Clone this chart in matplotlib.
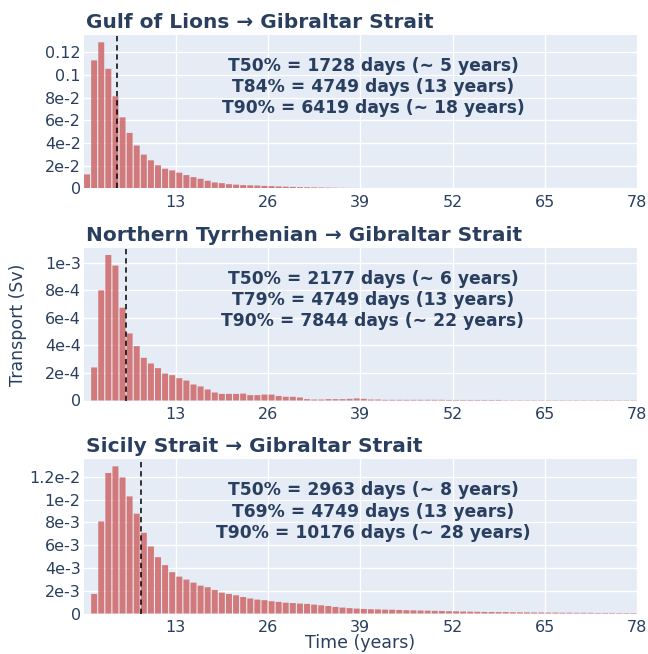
import matplotlib
matplotlib.use("Agg")
import matplotlib.pyplot as plt

# yearly bins, year 0 .. 77
years = list(range(78))

gulf_lions = [0.0124, 0.1127, 0.1286, 0.1053, 0.0811, 0.0626, 0.0489, 0.0378, 0.0298, 0.0248,
              0.0204, 0.0174, 0.0159, 0.0139, 0.0118, 0.0100, 0.0086, 0.0068, 0.0053, 0.0047,
              0.0038, 0.0034, 0.0030, 0.0028, 0.0026, 0.0023, 0.0021, 0.0018, 0.0016, 0.0014,
              0.0012, 0.0011, 0.0010, 0.0009, 0.0008, 0.0007, 0.0006, 0.00055, 0.0005, 0.00045,
              0.0004, 0.00036, 0.00033, 0.0003, 0.00028, 0.00026, 0.00024, 0.00022, 0.0002, 0.00019,
              0.00018, 0.00017, 0.00016, 0.00015, 0.00014, 0.00013, 0.00012, 0.00011, 0.0001, 0.0001,
              0.00009, 0.00009, 0.00008, 0.00008, 0.00007, 0.00007, 0.00007, 0.00006, 0.00006, 0.00006,
              0.00005, 0.00005, 0.00005, 0.00005, 0.00004, 0.00004, 0.00004, 0.00004]

tyrrhenian = [0.0, 2.4e-4, 8.0e-4, 1.057e-3, 9.8e-4, 6.74e-4, 4.87e-4, 3.95e-4, 3.10e-4, 2.69e-4,
              2.35e-4, 1.96e-4, 1.84e-4, 1.62e-4, 1.45e-4, 1.16e-4, 1.02e-4, 8.0e-5, 5.8e-5, 4.8e-5,
              4.8e-5, 4.8e-5, 5.0e-5, 3.9e-5, 3.9e-5, 4.3e-5, 4.3e-5, 3.3e-5, 2.7e-5, 2.7e-5,
              2.2e-5, 1.0e-5, 7e-6, 7e-6, 1.0e-5, 1.0e-5, 1.0e-5, 1.2e-5, 1.5e-5, 1.2e-5,
              7e-6, 7e-6, 5e-6, 5e-6, 5e-6, 5e-6, 5e-6, 5e-6, 5e-6, 5e-6,
              5e-6, 4e-6, 4e-6, 4e-6, 4e-6, 4e-6, 4e-6, 4e-6, 4e-6, 2e-6,
              2e-6, 2e-6, 2e-6, 2e-6, 2e-6, 2e-6, 2e-6, 2e-6, 2e-6, 2e-6,
              2e-6, 2e-6, 2e-6, 2e-6, 2e-6, 2e-6, 2e-6, 2e-6]

sicily = [0.0, 1.72e-3, 8.09e-3, 1.235e-2, 1.293e-2, 1.196e-2, 1.029e-2, 8.77e-3, 7.09e-3, 5.89e-3,
          4.95e-3, 4.25e-3, 3.63e-3, 3.24e-3, 2.98e-3, 2.71e-3, 2.45e-3, 2.31e-3, 2.07e-3, 1.83e-3,
          1.72e-3, 1.60e-3, 1.45e-3, 1.32e-3, 1.22e-3, 1.17e-3, 1.08e-3, 1.02e-3, 0.95e-3, 0.92e-3,
          0.87e-3, 0.84e-3, 0.78e-3, 0.72e-3, 0.66e-3, 0.58e-3, 0.52e-3, 0.47e-3, 0.43e-3, 0.40e-3,
          0.37e-3, 0.36e-3, 0.34e-3, 0.33e-3, 0.31e-3, 0.29e-3, 0.28e-3, 0.26e-3, 0.25e-3, 0.23e-3,
          0.22e-3, 0.20e-3, 0.19e-3, 0.17e-3, 0.16e-3, 0.15e-3, 0.14e-3, 0.13e-3, 0.12e-3, 0.12e-3,
          0.11e-3, 0.10e-3, 0.10e-3, 0.09e-3, 0.09e-3, 0.08e-3, 0.08e-3, 0.07e-3, 0.07e-3, 0.06e-3,
          0.06e-3, 0.06e-3, 0.05e-3, 0.05e-3, 0.05e-3, 0.04e-3, 0.04e-3, 0.04e-3]

titles = ["Gulf of Lions \u2192 Gibraltar Strait",
          "Northern Tyrrhenian \u2192 Gibraltar Strait",
          "Sicily Strait \u2192 Gibraltar Strait"]

t50_days = [1728, 2177, 2963]

annotations = [
    "T50% = 1728 days (~ 5 years)\nT84% = 4749 days (13 years)\nT90% = 6419 days (~ 18 years)",
    "T50% = 2177 days (~ 6 years)\nT79% = 4749 days (13 years)\nT90% = 7844 days (~ 22 years)",
    "T50% = 2963 days (~ 8 years)\nT69% = 4749 days (13 years)\nT90% = 10176 days (~ 28 years)",
]

ytick_vals = [[0, 0.02, 0.04, 0.06, 0.08, 0.1, 0.12],
              [0, 2e-4, 4e-4, 6e-4, 8e-4, 1e-3],
              [0, 2e-3, 4e-3, 6e-3, 8e-3, 1e-2, 1.2e-2]]
ytick_labels = [["0", "2e-2", "4e-2", "6e-2", "8e-2", "0.1", "0.12"],
                ["0", "2e-4", "4e-4", "6e-4", "8e-4", "1e-3"],
                ["0", "2e-3", "4e-3", "6e-3", "8e-3", "1e-2", "1.2e-2"]]
xticks = [13, 26, 39, 52, 65, 78]

series = [gulf_lions, tyrrhenian, sicily]

text_col = "#2a3f5f"
bg = "#E5ECF6"

fig = plt.figure(figsize=(6.48, 6.54), dpi=100)
H = 654.0
W = 648.0
# axes boxes in pixels: (top, bottom)
boxes = [(35, 188.5), (247.7, 400.5), (459, 613.5)]
left, right = 83.5, 637

for i, (top, bot) in enumerate(boxes):
    ax = fig.add_axes([left / W, 1 - bot / H, (right - left) / W, (bot - top) / H])
    ax.set_facecolor(bg)
    for s in ax.spines.values():
        s.set_visible(False)
    ax.set_axisbelow(True)
    ax.grid(True, color="white", linewidth=1)

    centers = [y + 0.5 for y in years]
    bars = ax.bar(centers, series[i], width=0.84, color="#CD5C5C", alpha=0.8)
    for b in bars:
        b.set_snap(False)
    ax.axvline(t50_days[i] / 365.0, color="black", linestyle=(0, (3.5, 2.5)), linewidth=1.1)

    ax.set_xlim(0, 78)
    ax.set_ylim(0, max(series[i]) * 1.05)
    ax.set_xticks(xticks)
    ax.set_yticks(ytick_vals[i])
    ax.set_yticklabels(ytick_labels[i])
    ax.tick_params(axis="both", length=0, labelsize=11.5, labelcolor=text_col)
    ax.tick_params(axis="x", pad=5)
    ax.tick_params(axis="y", pad=2)

    ax.text(0.004, 1.045, titles[i], transform=ax.transAxes, ha="left", va="baseline",
            fontsize=14.5, fontweight="bold", color=text_col)
    ax.text(0.523, 0.66, annotations[i], transform=ax.transAxes, ha="center", va="center",
            fontsize=12.3, fontweight="bold", color=text_col, linespacing=1.22)

fig.text(0.028, 1 - 325 / H, "Transport (Sv)", rotation=90, ha="center", va="center",
         fontsize=12.5, color=text_col)
fig.text((left + right) / 2 / W, 1 - 643 / H, "Time (years)", ha="center", va="center",
         fontsize=12.5, color=text_col)

fig.savefig("out.png", dpi=100, facecolor="white")
